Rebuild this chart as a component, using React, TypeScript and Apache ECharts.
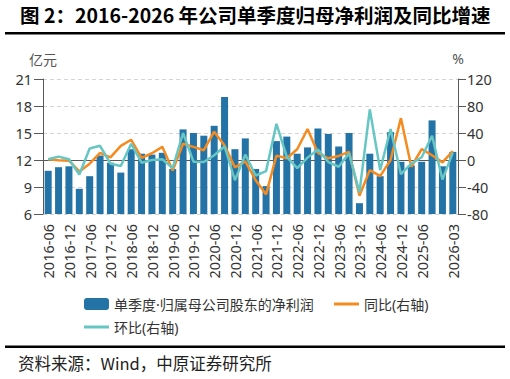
import React, { useEffect, useRef } from "react";
import * as echarts from "echarts";

// Quarter-end labels, 2016Q2 .. 2026Q1
const quarters: string[] = [
  "2016-06", "2016-09", "2016-12", "2017-03", "2017-06", "2017-09", "2017-12", "2018-03",
  "2018-06", "2018-09", "2018-12", "2019-03", "2019-06", "2019-09", "2019-12", "2020-03",
  "2020-06", "2020-09", "2020-12", "2021-03", "2021-06", "2021-09", "2021-12", "2022-03",
  "2022-06", "2022-09", "2022-12", "2023-03", "2023-06", "2023-09", "2023-12", "2024-03",
  "2024-06", "2024-09", "2024-12", "2025-03", "2025-06", "2025-09", "2025-12", "2026-03",
];

// Quarterly net profit attributable to shareholders (亿元)
const netProfit: number[] = [
  10.8, 11.2, 11.3, 8.8, 10.2, 12.5, 11.7, 10.6,
  13.2, 12.7, 12.6, 12.8, 11.0, 15.4, 15.0, 14.7,
  15.8, 19.0, 13.2, 14.4, 11.0, 9.1, 14.1, 14.6,
  12.7, 13.4, 15.5, 14.9, 13.5, 15.0, 7.2, 12.7,
  10.2, 15.1, 11.8, 11.4, 11.8, 16.4, 11.3, 12.9,
];

// Year-on-year growth (%)
const yoyGrowth: number[] = [
  1, -0.5, -1, -17, -5.5, 10.5, 4, 21,
  30, 3, 10, 19.5, -15.5, 24, 19.5, 14.5,
  42, 21.5, -11, -2, -30, -51, 6.5, 2.5,
  16, 46, 10.5, 2.5, 6, 12, -53, -15,
  -24, 0, 62, -10, 16, 7, -3.5, 13,
];

// Quarter-on-quarter growth (%)
const qoqGrowth: number[] = [
  1, 5, 1, -21.5, 17, 21, -5.5, -9,
  24, -4, 0, 1, -12, 40, -2.5, -3,
  7, 20, -30, 8, -23, -16.5, 53.5, 4.5,
  -12, 3.5, 15.5, -3, -10, 10, -48, 75,
  -15, 46, -21, -5.5, 4, 36, -29, 11,
];

const leftTicks = { min: 6, max: 21, interval: 3 };
const rightTicks = { min: -80, max: 120, interval: 40 };

const NAME_BAR = "单季度·归属母公司股东的净利润";
const NAME_YOY = "同比(右轴)";
const NAME_QOQ = "环比(右轴)";

const FONT = "'Noto Sans', 'Noto Sans CJK SC', sans-serif";
const CJK_FONT = "'Noto Sans CJK SC', 'Noto Sans', sans-serif";
const BAR_COLOR = "#2473a6";
const YOY_COLOR = "#f58a1f";
const QOQ_COLOR = "#66c6c3";
const AXIS_COLOR = "#595959";
const TEXT_COLOR = "#333333";

const lastIndex = quarters.length - 1;
const showLabel = (i: number) => (i % 2 === 0 && i < lastIndex - 1) || i === lastIndex;
const showTick = (i: number) => i % 2 === 0 || i === lastIndex;

export default function App() {
  const ref = useRef<HTMLDivElement>(null);

  useEffect(() => {
    if (!ref.current) return;
    const chart = echarts.init(ref.current, undefined, { renderer: "svg" });

    const legendBase = {
      orient: "horizontal" as const,
      itemGap: 20,
      textStyle: { fontFamily: FONT, fontSize: 14, color: TEXT_COLOR },
      selectedMode: false,
    };

    chart.setOption({
      animation: false,
      backgroundColor: "#ffffff",
      textStyle: { fontFamily: FONT },
      grid: { left: 43, right: 52, top: 79, bottom: 165, containLabel: false },
      legend: [
        {
          ...legendBase,
          data: [{ name: NAME_BAR, icon: "roundRect" }],
          left: 79,
          top: 292,
          itemWidth: 25,
          itemHeight: 12,
        },
        {
          ...legendBase,
          data: [{ name: NAME_YOY, icon: "rect" }],
          left: 329,
          top: 292,
          itemWidth: 25,
          itemHeight: 3,
        },
        {
          ...legendBase,
          data: [{ name: NAME_QOQ, icon: "rect" }],
          left: 79,
          top: 315,
          itemWidth: 25,
          itemHeight: 3,
        },
      ],
      xAxis: {
        type: "category",
        data: quarters,
        boundaryGap: true,
        axisLine: { lineStyle: { color: AXIS_COLOR, width: 1 } },
        axisTick: {
          alignWithLabel: true,
          length: 7,
          interval: (i: number) => showTick(i),
          lineStyle: { color: AXIS_COLOR },
        },
        axisLabel: {
          rotate: 90,
          margin: 10,
          interval: (i: number) => showLabel(i),
          fontSize: 14.5,
          fontFamily: FONT,
          color: TEXT_COLOR,
        },
      },
      yAxis: [
        {
          type: "value",
          name: "亿元",
          nameLocation: "end",
          nameGap: 13,
          nameTextStyle: { fontFamily: CJK_FONT, fontSize: 14, color: "#555" },
          min: leftTicks.min,
          max: leftTicks.max,
          interval: leftTicks.interval,
          axisLine: { show: true, lineStyle: { color: AXIS_COLOR } },
          axisTick: { show: true, length: 9, lineStyle: { color: AXIS_COLOR } },
          axisLabel: { margin: 11, fontSize: 14.5, fontFamily: FONT, color: TEXT_COLOR },
          splitLine: { show: true, lineStyle: { color: "#d4d4d4", type: [4, 3] } },
        },
        {
          type: "value",
          name: "%",
          nameLocation: "end",
          nameGap: 14,
          nameTextStyle: { fontFamily: FONT, fontSize: 14, color: "#555" },
          min: rightTicks.min,
          max: rightTicks.max,
          interval: rightTicks.interval,
          position: "right",
          axisLine: { show: true, lineStyle: { color: AXIS_COLOR } },
          axisTick: { show: true, length: 8, lineStyle: { color: AXIS_COLOR } },
          axisLabel: { margin: 9, fontSize: 14.5, fontFamily: FONT, color: TEXT_COLOR },
          splitLine: { show: false },
        },
      ],
      series: [
        {
          name: NAME_BAR,
          type: "bar",
          yAxisIndex: 0,
          data: netProfit,
          barWidth: 7,
          itemStyle: { color: BAR_COLOR },
        },
        {
          name: NAME_YOY,
          type: "line",
          yAxisIndex: 1,
          data: yoyGrowth,
          symbol: "none",
          lineStyle: { color: YOY_COLOR, width: 2.5 },
          itemStyle: { color: YOY_COLOR },
          z: 3,
        },
        {
          name: NAME_QOQ,
          type: "line",
          yAxisIndex: 1,
          data: qoqGrowth,
          symbol: "none",
          lineStyle: { color: QOQ_COLOR, width: 2.5 },
          itemStyle: { color: QOQ_COLOR },
          z: 4,
        },
      ],
      graphic: [
        {
          type: "text",
          left: 20,
          top: 5,
          style: {
            text: "图 2：2016-2026 年公司单季度归母净利润及同比增速",
            font: `bold 19.5px ${CJK_FONT}`,
            fill: "#000000",
          },
        },
        {
          type: "rect",
          shape: { x: 5, y: 32, width: 500, height: 2.5 },
          style: { fill: "#000000" },
        },
        {
          type: "rect",
          shape: { x: 5, y: 345.5, width: 500, height: 2.5 },
          style: { fill: "#000000" },
        },
        {
          type: "text",
          left: 18,
          top: 355,
          style: {
            text: "资料来源：Wind，中原证券研究所",
            font: `16.5px ${CJK_FONT}`,
            fill: "#222222",
          },
        },
      ],
    });

    return () => chart.dispose();
  }, []);

  return (
    <div
      ref={ref}
      style={{ position: "fixed", left: 0, top: 0, width: 510, height: 379, background: "#fff" }}
    />
  );
}
